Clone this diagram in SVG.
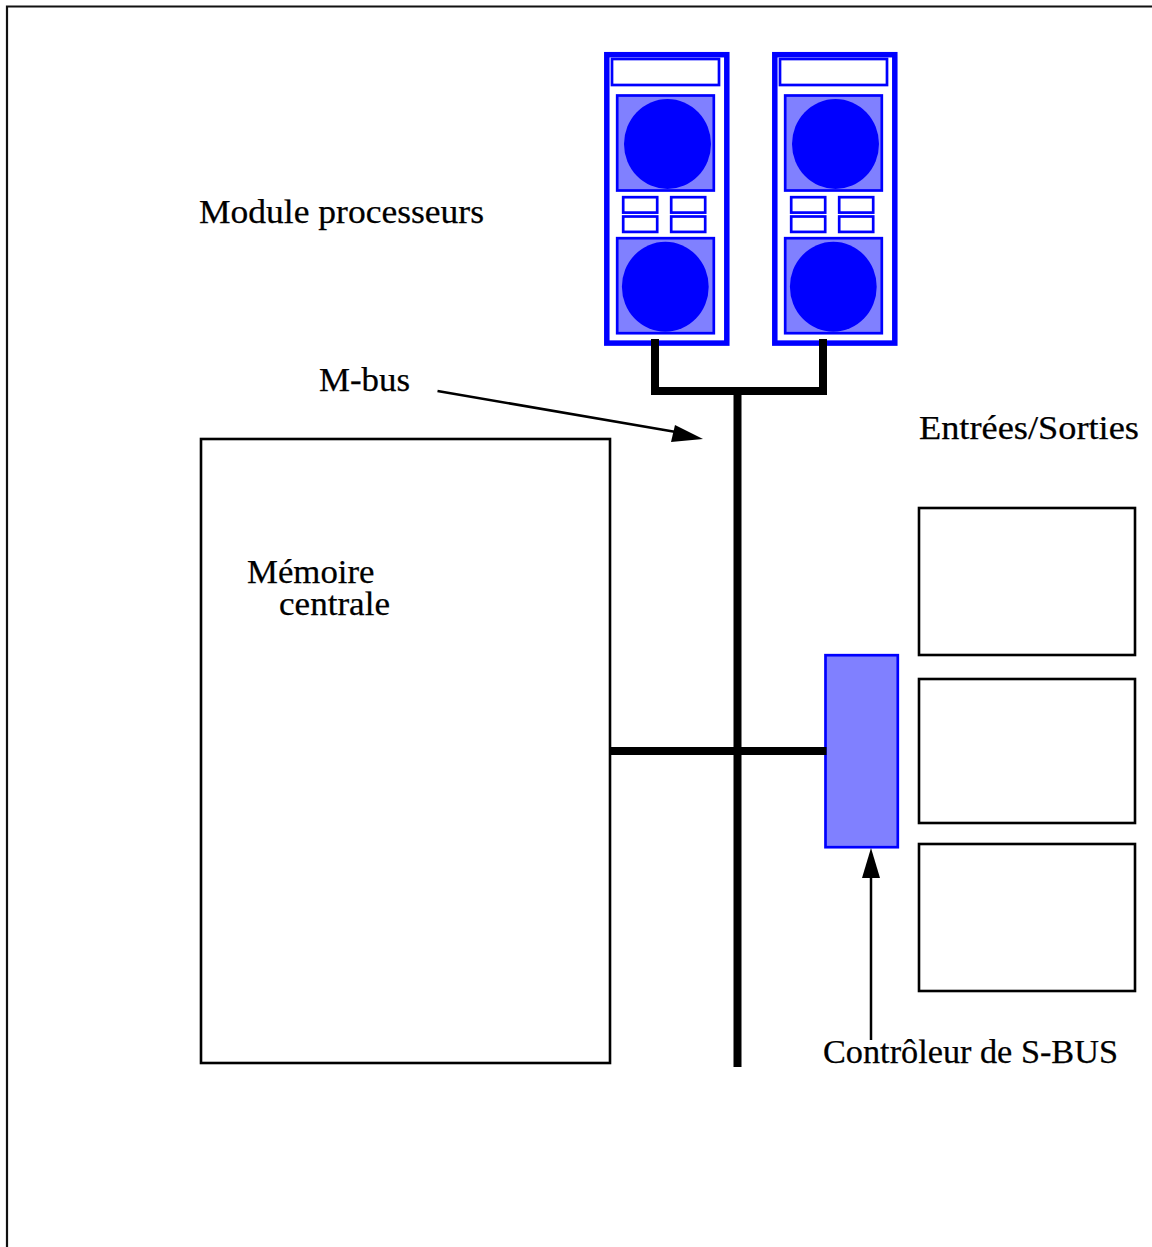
<svg xmlns="http://www.w3.org/2000/svg" width="1152" height="1247" viewBox="0 0 1152 1247">
<style>
text{font-family:"Liberation Serif","Times New Roman",serif;font-size:33.5px;fill:#000;stroke:#000;stroke-width:.25}
.box{fill:#fff;stroke:#000;stroke-width:2.6}
.frame{fill:none;stroke:#111;stroke-width:2.2}
.outer{fill:#fff;stroke:#00f;stroke-width:5.5}
.thin{fill:#fff;stroke:#00f;stroke-width:2.7}
.cpu{fill:#8080ff;stroke:#00f;stroke-width:2.7}
.disc{fill:#00f}
.bus{fill:none;stroke:#000;stroke-width:8}
.lead{fill:none;stroke:#000;stroke-width:2.5}
.head{fill:#000}
</style>
<defs>
<g id="module">
<rect class="outer" x="606.8" y="54.7" width="120" height="288.4"/>
<rect class="thin" x="612" y="59" width="107" height="26"/>
<rect class="cpu" x="617.2" y="95.5" width="96.6" height="95"/>
<ellipse class="disc" cx="667.5" cy="144" rx="43.5" ry="45"/>
<rect class="thin" x="623.2" y="197.2" width="34" height="15.4"/>
<rect class="thin" x="671.2" y="197.2" width="34" height="15.4"/>
<rect class="thin" x="623.2" y="216.5" width="34" height="15.4"/>
<rect class="thin" x="671.2" y="216.5" width="34" height="15.4"/>
<rect class="cpu" x="617.2" y="238.2" width="96.6" height="95"/>
<ellipse class="disc" cx="665.3" cy="286.7" rx="43.4" ry="45"/>
</g>
</defs>
<path id="frame" class="frame" d="M1152 6.5H7V1247"/>
<g id="module-1"><use href="#module"/></g>
<g id="module-2"><use href="#module" x="168"/></g>
<g id="memory"><rect class="box" x="201" y="439" width="409" height="624"/></g>
<g id="io-1"><rect class="box" x="919" y="508" width="216" height="147"/></g>
<g id="io-2"><rect class="box" x="919" y="679" width="216" height="144"/></g>
<g id="io-3"><rect class="box" x="919" y="844" width="216" height="147"/></g>
<g id="controller"><rect class="cpu" x="825.5" y="655.2" width="72.3" height="192"/></g>
<g id="connectors">
<path class="bus" d="M655 339V391H823V339"/>
<path class="bus" d="M737.5 391V1067"/>
<path class="bus" d="M610 751H826.500"/>
<path class="lead" d="M437.5 391L676 432"/>
<path class="head" d="M703 439L675 425L671 442Z"/>
<path class="lead" d="M871 1040V875"/>
<path class="head" d="M871 848L862 878H880Z"/>
</g>
<text x="199" y="223" textLength="285" lengthAdjust="spacingAndGlyphs">Module processeurs</text>
<text x="319" y="391" textLength="91" lengthAdjust="spacingAndGlyphs">M-bus</text>
<text x="919" y="439" textLength="220" lengthAdjust="spacingAndGlyphs">Entrées/Sorties</text>
<text x="247" y="583" textLength="127.500" lengthAdjust="spacingAndGlyphs">Mémoire</text>
<text x="279" y="615" textLength="111" lengthAdjust="spacingAndGlyphs">centrale</text>
<text x="823" y="1063" textLength="295" lengthAdjust="spacingAndGlyphs">Contrôleur de S-BUS</text>
</svg>
